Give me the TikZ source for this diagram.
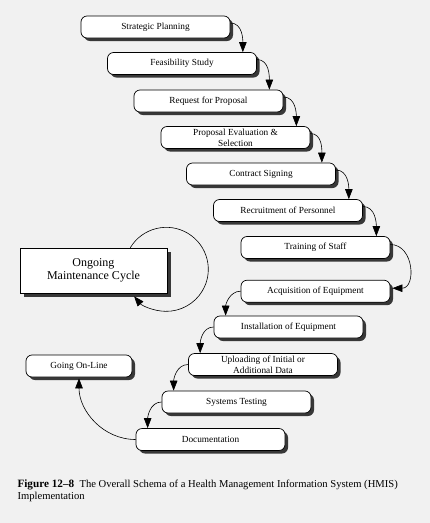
\documentclass[tikz,border=0pt]{standalone}
\usepackage{fontspec}
\setmainfont{Liberation Serif}
\usetikzlibrary{arrows.meta, positioning, shadows}
\definecolor{paper}{HTML}{F1F1F1}
\definecolor{shade}{HTML}{383838}

\begin{document}
\begin{tikzpicture}[
	x=1pt, y=-1pt,
	stage/.style={
		draw, rounded corners=6pt, fill=white, line width=0.7pt,
		minimum width=149pt, minimum height=22pt, inner sep=1pt,
		align=center, font=\fontsize{9.3}{10.8}\selectfont,
		general shadow={fill=shade, shadow xshift=3pt, shadow yshift=-3pt}
	},
	cyclebox/.style={
		draw, fill=white, line width=0.6pt,
		minimum width=147pt, minimum height=45pt, align=center,
		font=\fontsize{12}{12.5}\selectfont,
		general shadow={fill=shade, shadow xshift=3.5pt, shadow yshift=-3.5pt}
	},
	flow/.style={-{Triangle[length=10pt, width=7.5pt]}, line width=0.6pt},
	caplbl/.style={font=\fontsize{10.6}{12.5}\selectfont, align=left}
	]
	\fill[paper] (0,0) rectangle (430,523);
	\useasboundingbox (0,0) rectangle (430,523);

	% main chain of stages
	\node[stage] (sp) at (155.5,27)  {Strategic Planning};
	\node[stage] (fs) at (182,63.5)  {Feasibility Study};
	\node[stage] (rp) at (208.5,101) {Request for Proposal};
	\node[stage] (pe) at (235.5,137.5) {Proposal Evaluation \&\\Selection};
	\node[stage] (cs) at (261,174)   {Contract Signing};
	\node[stage] (rc) at (288,210.5) {Recruitment of Personnel};
	\node[stage] (ts) at (315.5,247.5) {Training of Staff};
	\node[stage, below=21pt of ts] (aq) {Acquisition of Equipment};
	\node[stage] (ie) at (288.5,327) {Installation of Equipment};
	\node[stage] (ud) at (263,364.5) {Uploading of Initial or\\Additional Data};
	\node[stage] (st) at (236.5,402) {Systems Testing};
	\node[stage] (dc) at (210.5,439.5) {Documentation};

	\node[stage, minimum width=106pt] (gl) at (79,366) {Going On-Line};
	\node[cyclebox] (mc) at (93.5,270.5) {Ongoing\\Maintenance Cycle};

	% connectors
	\draw[flow] ([yshift=4pt]sp.east) to[out=0, in=90] ([xshift=-14pt]fs.north east);
	\draw[flow] ([yshift=4pt]fs.east) to[out=0, in=90] ([xshift=-14pt]rp.north east);
	\draw[flow] ([yshift=4pt]rp.east) to[out=0, in=90] ([xshift=-14pt]pe.north east);
	\draw[flow] ([yshift=4pt]pe.east) to[out=0, in=90] ([xshift=-14pt]cs.north east);
	\draw[flow] ([yshift=4pt]cs.east) to[out=0, in=90] ([xshift=-14pt]rc.north east);
	\draw[flow] ([yshift=4pt]rc.east) to[out=0, in=90] ([xshift=-14pt]ts.north east);
	\draw[flow] ([yshift=3pt]ts.east) to[out=0, in=0, looseness=1.4] ([xshift=2pt,yshift=3pt]aq.east);
	\draw[flow] (aq.west) to[out=180, in=90] ([xshift=12pt]ie.north west);
	\draw[flow] (ie.west) to[out=180, in=90] ([xshift=12pt]ud.north west);
	\draw[flow] (ud.west) to[out=180, in=90] ([xshift=12pt]st.north west);
	\draw[flow] (st.west) to[out=180, in=90] ([xshift=12pt]dc.north west);
	\draw[flow] (dc.west) to[out=180, in=-90] ([yshift=-1pt]gl.south);
	\draw[flow] ([xshift=-37pt]mc.north east) arc[start angle=149, end angle=-140, radius=42pt];

	\node[caplbl, anchor=north west] (cap) at (14,476)
	{{\fontsize{11.2}{12.5}\selectfont\bfseries Figure 12–8}\enspace The Overall Schema of a Health Management Information System (HMIS)\\Implementation};
\end{tikzpicture}
\end{document}
